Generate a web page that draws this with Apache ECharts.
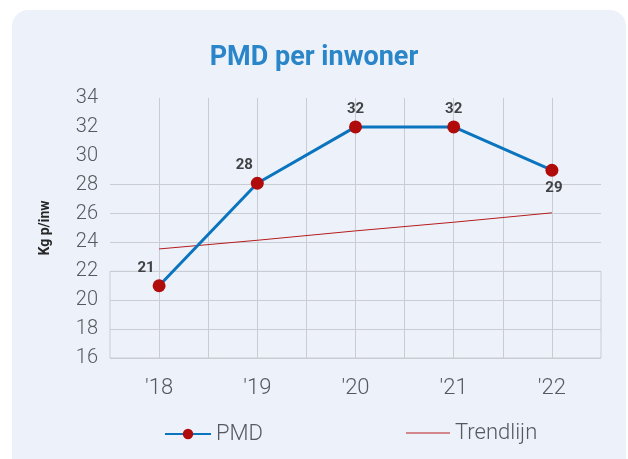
<!DOCTYPE html>
<html>
<head>
<meta charset="utf-8">
<script src="https://cdn.jsdelivr.net/npm/echarts@6/dist/echarts.min.js"></script>
<style>
  html, body { margin: 0; padding: 0; background: #ffffff; }
  #card {
    position: absolute; left: 12px; top: 10px; width: 614px; height: 470px;
    background: #edf2fa; border-radius: 16px;
  }
  #chart { position: absolute; left: 0; top: 0; width: 628px; height: 459px; }
</style>
</head>
<body>
<div id="card"></div>
<div id="chart"></div>
<script>
const years = ["'18", "'19", "'20", "'21", "'22"];
const pmd = [21.0, 28.1, 32.0, 32.0, 29.0];
const trend = [23.55, 24.15, 24.8, 25.4, 26.05];
const yTicks = [16, 18, 20, 22, 24, 26, 28, 30, 32, 34];
// labels above, except last one below
const labelPos = ["top", "top", "top", "top", "bottom"];
const labelOffset = [[-13, 0], [-13, 0], [0, 0], [0, 0], [2, 0]];

const gridColor = "#c9ccd3";
const trendColor = "#b51c1c";
const fontFamily = "Roboto, 'Noto Sans', sans-serif";

const chart = echarts.init(document.getElementById("chart"));

// horizontal lines only up to 28 like the source
const hLineColors = yTicks.map((t) => (t <= 28 ? gridColor : "transparent"));
// vertical lines at every half category, but not at the outer edges
const vSteps = [];
for (let i = -0.5; i <= years.length - 0.5; i += 0.5) vSteps.push(i);
const vLineColors = vSteps.map((s, i) =>
  i === 0 || i === vSteps.length - 1 ? "transparent" : gridColor
);

const legendText = { color: "#555a60", fontSize: 22, fontFamily, fontWeight: 300 };

const option = {
  animation: false,
  title: {
    text: "PMD per inwoner",
    left: "center",
    top: 40,
    textStyle: { color: "#2a86c9", fontSize: 27, fontWeight: "bold", fontFamily },
  },
  legend: [
    {
      bottom: 9,
      left: 159,
      itemWidth: 46,
      itemHeight: 13,
      textStyle: legendText,
      data: ["PMD"],
    },
    {
      bottom: 9,
      left: 401,
      itemWidth: 44,
      itemHeight: 24,
      itemGap: 0,
      textStyle: legendText,
      data: [{ name: "Trendlijn", icon: "path://M0,11.4H44V12.6H0Z M0,0H0.01V0.01H0Z M0,24H0.01V24.01H0Z" }],
    },
  ],
  grid: { left: 110, right: 27, top: 98, bottom: 101 },
  xAxis: [
    {
      type: "category",
      data: years,
      boundaryGap: true,
      axisLine: { show: false },
      axisTick: { show: false },
      splitLine: { show: false },
      axisLabel: {
        color: "#555a60",
        fontSize: 22,
        fontFamily,
        fontWeight: 300,
        margin: 19,
      },
    },
    {
      type: "value",
      min: -0.5,
      max: years.length - 0.5,
      interval: 0.5,
      axisLine: { show: false },
      axisTick: { show: false },
      axisLabel: { show: false },
      splitLine: { show: true, lineStyle: { color: vLineColors, width: 1 } },
    },
  ],
  yAxis: {
    type: "value",
    min: 16,
    max: 34,
    interval: 2,
    name: "Kg p/inw",
    nameLocation: "middle",
    nameGap: 58,
    nameTextStyle: { color: "#262626", fontSize: 14, fontWeight: "bold", fontFamily },
    axisLine: { show: false },
    axisTick: { show: false },
    axisLabel: { color: "#555a60", fontSize: 20, fontFamily, fontWeight: 300, margin: 12 },
    splitLine: { show: true, lineStyle: { color: hLineColors, width: 1 } },
  },
  series: [
    {
      name: "PMD",
      type: "line",
      data: pmd.map((v, i) => ({
        value: v,
        label: { position: labelPos[i], offset: labelOffset[i] },
      })),
      z: 4,
      symbol: "circle",
      symbolSize: 13,
      lineStyle: { color: "#0b74bf", width: 3 },
      itemStyle: { color: "#b00c0c" },
      label: {
        show: true,
        distance: 4,
        color: "#404245",
        fontSize: 15,
        fontWeight: "bold",
        fontFamily,
        formatter: (p) => Math.round(p.value),
      },
      markArea: {
        silent: true,
        itemStyle: { color: "transparent", borderColor: gridColor, borderWidth: 1 },
        data: [[{ x: 110, yAxis: 16 }, { x: 601, yAxis: 22 }]],
      },
    },
    {
      name: "Trendlijn",
      type: "line",
      data: trend,
      symbol: "none",
      z: 3,
      lineStyle: { color: trendColor, width: 1 },
      itemStyle: { color: trendColor },
    },
  ],
};

chart.setOption(option);
</script>
</body>
</html>
